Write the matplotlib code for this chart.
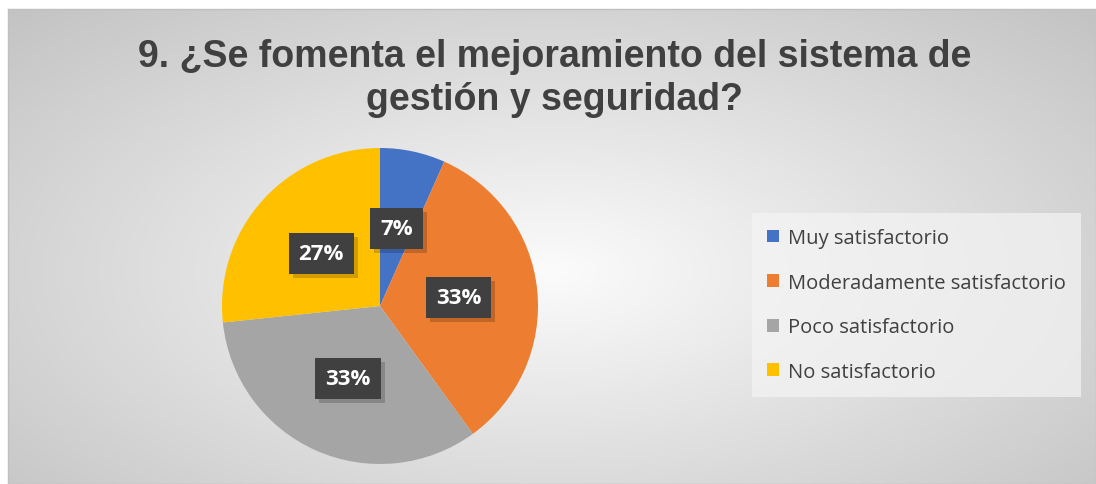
import matplotlib.pyplot as plt
import matplotlib.patheffects as pe
import numpy as np

categorias = ["Muy satisfactorio", "Moderadamente satisfactorio",
              "Poco satisfactorio", "No satisfactorio"]
respuestas = [1, 5, 5, 4]
colores = ["#4472C4", "#ED7D31", "#A5A5A5", "#FFC000"]
titulo = "9. ¿Se fomenta el mejoramiento del sistema de\ngestión y seguridad?"

W, H = 1096, 485
fig = plt.figure(figsize=(W / 100, H / 100), dpi=100)

# fondo con degradado radial
bg = fig.add_axes([8 / W, 0, 1 - 8 / W, 1 - 10 / H])
yy, xx = np.mgrid[0:200, 0:450]
d = np.sqrt(((xx - 225) / 225) ** 2 + ((yy - 110) / 110) ** 2) / np.sqrt(2)
g = 0.985 - 0.22 * np.clip(d, 0, 1)
bg.imshow(np.dstack([g, g, g]), aspect="auto", extent=[0, 1, 0, 1])
bg.set_xticks([])
bg.set_yticks([])
for s in bg.spines.values():
    s.set_color("#c0c0c0")
    s.set_linewidth(1)

fig.text(0.506, 0.838, titulo, ha="center", va="center", fontsize=27,
         fontweight="bold", color="#404040", family="Liberation Sans",
         linespacing=1.25)

cx, cy, r = 380, 307, 158
ax = fig.add_axes([(cx - r) / W, (H - cy - r) / H, 2 * r / W, 2 * r / H])
wedges, _, autotexts = ax.pie(respuestas, colors=colores, startangle=90,
                              counterclock=False, autopct="%1.0f%%",
                              pctdistance=0.5, radius=1,
                              wedgeprops=dict(linewidth=0))
ax.set_xlim(-1, 1)
ax.set_ylim(-1, 1)
ax.set_aspect("equal")

for t in autotexts:
    t.set_color("white")
    t.set_fontsize(16)
    t.set_fontweight("bold")
    t.set_family("Open Sans")
    t.set_bbox(dict(boxstyle="square,pad=0.45", facecolor="#404040",
                    edgecolor="none", linewidth=0))
    t.get_bbox_patch().set_path_effects(
        [pe.SimplePatchShadow(offset=(3, -3), shadow_rgbFace="#000000", alpha=0.18),
         pe.Normal()])

leg = fig.legend(wedges, categorias, loc="center left",
                 bbox_to_anchor=(752 / W, (H - 306) / H),
                 frameon=True, prop=dict(family="Open Sans", size=14.5),
                 handlelength=0.6, handleheight=0.6, handletextpad=0.45,
                 labelspacing=1.22, borderpad=0.75, borderaxespad=0, fancybox=False)
leg.get_frame().set_facecolor("#f4f4f4")
leg.get_frame().set_alpha(0.7)
leg.get_frame().set_linewidth(0)
for t in leg.get_texts():
    t.set_color("#404040")

plt.savefig("out.png", dpi=100)
